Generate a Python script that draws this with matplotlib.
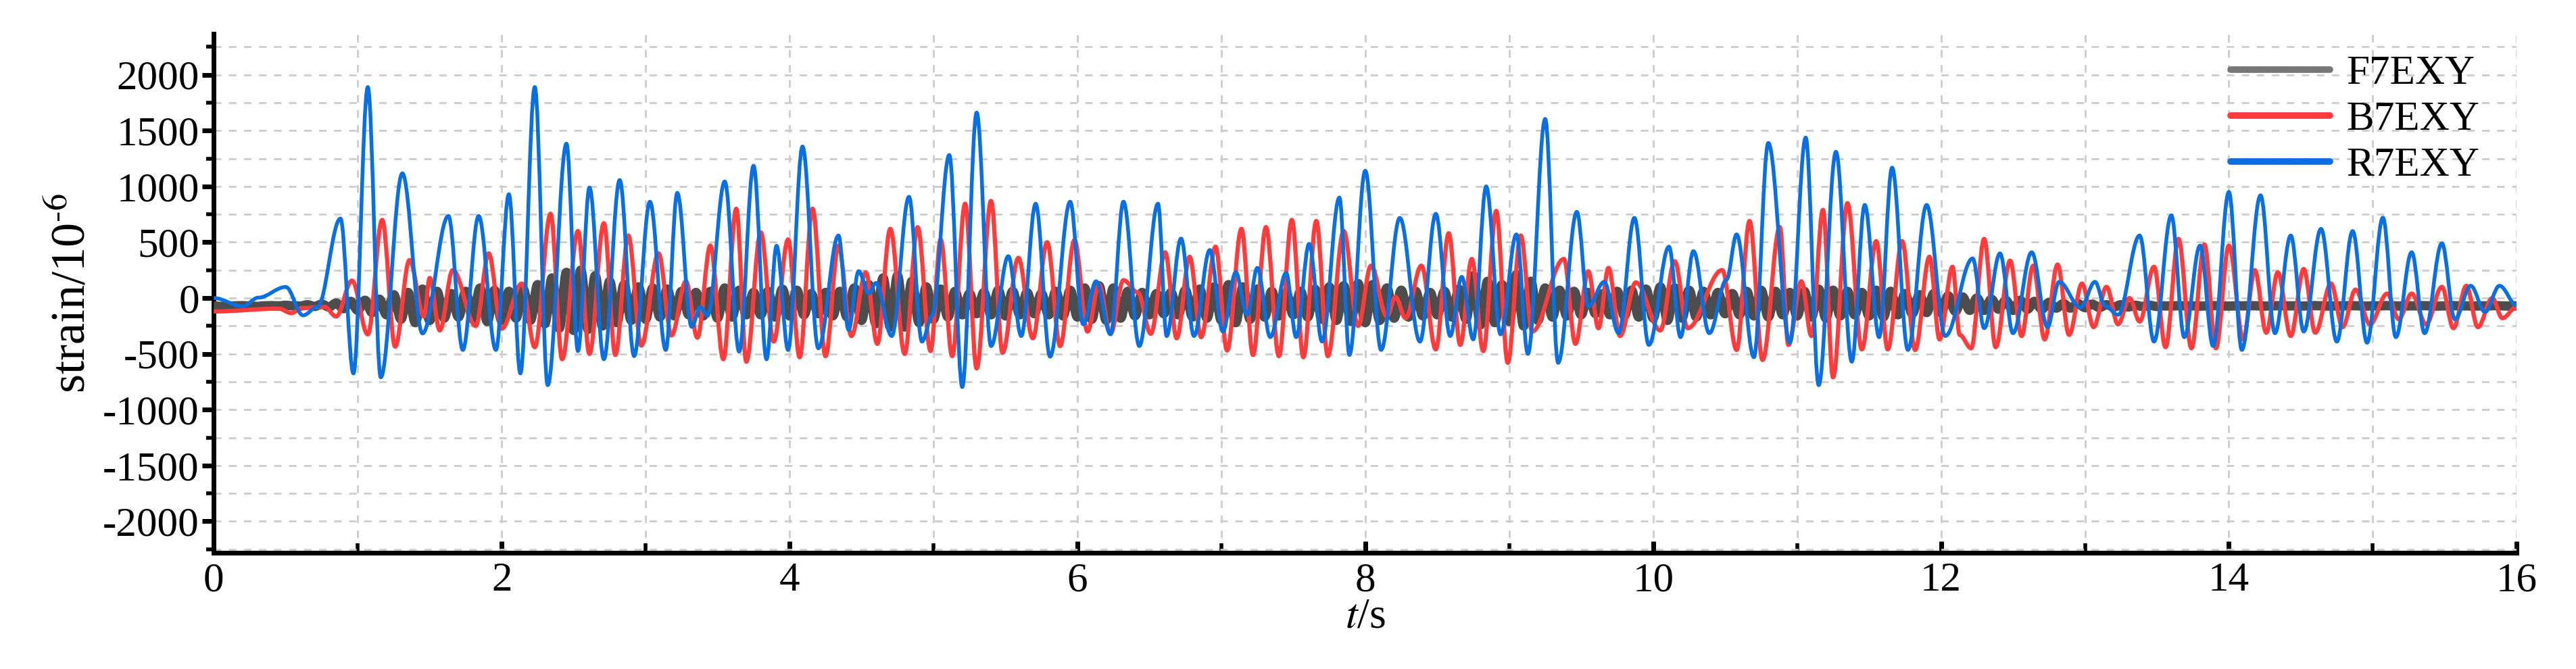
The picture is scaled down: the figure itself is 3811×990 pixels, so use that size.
import numpy as np
import matplotlib
matplotlib.use("Agg")
import matplotlib.pyplot as plt
from matplotlib.ticker import MultipleLocator
from matplotlib.path import Path
from matplotlib.patches import PathPatch
from matplotlib.lines import Line2D

# R7EXY extrema (time s, strain 1e-6)
r_t = [0.0,0.2,0.31,0.5,0.62,0.72,0.88,0.97,1.07,1.16,1.31,1.45,1.63,1.73,1.84,1.96,2.05,2.13,2.23,2.32,
       2.45,2.53,2.61,2.71,2.82,2.92,3.03,3.14,3.22,3.32,3.38,3.43,3.55,3.65,3.75,3.84,3.91,3.99,4.09,4.2,
       4.34,4.41,4.48,4.55,4.6,4.71,4.83,4.92,4.99,5.11,5.2,5.3,5.4,5.52,5.61,5.71,5.81,5.95,6.04,6.13,
       6.23,6.32,6.43,6.56,6.62,6.72,6.81,6.92,7.01,7.1,7.18,7.25,7.34,7.45,7.52,7.61,7.7,7.82,7.89,8.0,
       8.11,8.24,8.38,8.49,8.59,8.67,8.75,8.84,8.94,9.05,9.13,9.25,9.34,9.47,9.55,9.66,9.76,9.87,9.97,10.11,
       10.19,10.28,10.39,10.51,10.58,10.7,10.8,10.95,11.06,11.15,11.27,11.38,11.47,11.57,11.66,11.77,11.9,12.03,12.22,
       12.3,12.41,12.5,12.63,12.74,12.82,12.97,13.07,13.14,13.23,13.38,13.48,13.6,13.69,13.8,13.89,14.0,14.09,14.22,14.32,
       14.43,14.52,14.64,14.75,14.86,14.96,15.07,15.16,15.27,15.36,15.48,15.57,15.68,15.78,15.88,16.0]
r_v = [0,-74,4,99,-155,-80,712,-675,1890,-710,1117,-317,735,-465,735,-465,930,-675,1890,-780,
       1383,-475,990,-548,1057,-520,863,-465,942,-258,-82,-160,1044,-480,1185,-548,468,-465,1357,-450,
       560,-285,241,42,135,-340,907,-390,-160,1281,-797,1661,-430,375,-340,845,-525,863,-235,150,
       -325,863,-430,845,-340,533,-340,430,-300,230,-150,270,-350,225,-350,485,-390,900,-510,1140,
       -465,718,-390,754,-340,190,-370,1000,-325,570,-500,1604,-580,772,-75,145,-315,718,-420,460,
       -350,420,-315,165,570,-530,1389,-400,1437,-780,1310,-570,834,-350,1168,-465,834,-340,355,
       -270,400,-315,410,-260,145,-85,145,-70,-150,560,-390,740,-350,470,-430,950,-465,920,-315,
       560,-300,620,-390,600,-400,720,-350,410,-315,490,-190,110,-125,110,-65]

# B7EXY extrema
b_t = [0.0,0.45,0.54,0.61,0.77,0.85,0.96,1.07,1.17,1.26,1.36,1.46,1.5,1.57,1.66,1.82,1.91,2.0,2.14,2.23,
       2.34,2.42,2.53,2.61,2.71,2.79,2.88,2.97,3.09,3.18,3.28,3.36,3.45,3.54,3.63,3.7,3.8,3.89,3.99,4.07,
       4.16,4.25,4.34,4.43,4.53,4.61,4.7,4.8,4.89,4.98,5.05,5.13,5.22,5.3,5.4,5.48,5.59,5.69,5.79,5.88,
       5.98,6.07,6.15,6.23,6.32,6.42,6.51,6.61,6.69,6.78,6.86,6.96,7.04,7.14,7.22,7.31,7.4,7.49,7.57,7.66,
       7.74,7.85,7.95,8.04,8.15,8.21,8.28,8.39,8.49,8.58,8.66,8.74,8.82,8.91,8.99,9.08,9.16,9.38,9.46,9.55,
       9.62,9.69,9.77,9.88,10.05,10.15,10.24,10.48,10.58,10.67,10.76,10.88,10.94,11.03,11.1,11.18,11.25,11.35,11.45,11.55,
       11.63,11.73,11.82,11.92,11.99,12.08,12.13,12.21,12.3,12.38,12.48,12.56,12.64,12.72,12.81,12.89,12.98,13.06,13.15,13.23,
       13.31,13.38,13.48,13.56,13.65,13.74,13.83,13.91,14.0,14.1,14.18,14.26,14.34,14.43,14.52,14.6,14.71,14.79,14.88,14.98,
       15.1,15.18,15.27,15.37,15.48,15.56,15.65,15.73,15.83,15.9,16.0]
b_v = [-120,-95,-135,-90,-80,-165,156,-325,700,-435,340,-165,180,-290,250,-250,400,-275,130,-440,
       755,-548,600,-500,670,-510,560,-425,400,-335,150,-355,470,-548,800,-570,588,-390,525,-530,
       800,-520,470,-340,230,-410,620,-500,635,-475,525,-520,845,-630,870,-490,360,-360,500,-430,
       520,-300,120,-320,160,50,-320,410,-360,370,-350,460,-470,620,-510,635,-520,700,-530,690,
       -520,600,-250,290,-165,10,-180,290,-460,580,-420,350,-475,780,-580,560,-300,350,-410,240,
       -270,270,-340,140,-290,330,-270,250,-465,690,-555,635,-420,150,-340,790,-710,850,-460,510,
       -460,510,-465,370,-370,280,-330,-450,530,-440,335,-340,290,-370,300,-330,130,-260,100,-235,
       0,-210,280,-440,530,-450,480,-450,470,-370,250,-310,230,-340,260,-310,130,-260,75,-235,
       40,-190,40,-235,100,-270,110,-260,0,-180,-80]

# F7EXY extrema, one value every 0.05 s starting at 0 s
f_v = [-70,-75,-72,-70,-68,-72,-75,-70,-68,-70,-65,-70,-72,-60,-75,-55,-80,-45,-95,-30,
       -110,-20,-130,-10,-150,30,-190,50,-220,80,-200,60,-180,40,-170,60,-190,90,-210,70,
       -200,60,-180,80,-200,120,-230,180,-270,230,-290,250,-280,200,-250,150,-220,120,-200,100,
       -190,90,-170,80,-160,60,-150,50,-160,60,-180,90,-170,70,-150,50,-150,60,-170,80,
       -160,70,-150,40,-140,50,-160,60,-170,90,-200,120,-230,180,-260,200,-260,150,-220,100,
       -190,80,-170,60,-150,40,-140,50,-150,70,-160,60,-150,50,-140,40,-150,60,-160,70,
       -170,90,-190,110,-200,90,-180,60,-160,50,-150,40,-140,50,-150,70,-170,80,-180,100,
       -200,120,-220,100,-190,80,-170,60,-160,50,-150,60,-170,80,-190,100,-200,110,-210,130,
       -220,120,-200,90,-180,70,-170,60,-160,50,-150,60,-170,80,-190,200,-240,150,-220,120,
       -210,210,-250,150,-200,90,-170,70,-160,60,-150,50,-140,40,-150,60,-160,70,-170,80,
       -180,100,-200,90,-180,70,-170,60,-150,50,-140,40,-150,60,-160,70,-170,60,-150,50,
       -160,60,-170,80,-180,70,-160,60,-150,50,-160,70,-170,60,-150,40,-140,30,-130,40,
       -130,20,-120,10,-110,0,-110,-10,-100,-20,-110,-20,-100,-30,-100,-40,-90,-50,-90,-50,
       -85,-55,-85,-60,-80,-60,-80,-65,-75,-65,-75,-70,-72,-68,-70,-70,-72,-70,-68,-70,
       -72,-70,-70,-68,-70,-72,-70,-68,-70,-70,-72,-70,-68,-70,-72,-70,-70,-68,-70,-72,
       -70,-70,-68,-70,-72,-70,-70,-68,-70,-72,-70,-68,-70,-70,-72,-70,-70,-68,-70,-72,-70]
f_t = np.arange(len(f_v)) * 0.05


def smooth_path(t, v):
    """Bezier path through the extrema with horizontal tangents."""
    t = np.asarray(t, float); v = np.asarray(v, float)
    verts = [(t[0], v[0])]
    codes = [Path.MOVETO]
    for i in range(1, len(t)):
        dt = t[i] - t[i - 1]
        verts += [(t[i - 1] + dt * 0.36, v[i - 1]), (t[i] - dt * 0.36, v[i]), (t[i], v[i])]
        codes += [Path.CURVE4] * 3
    return Path(verts, codes)


plt.rcParams['font.family'] = ['Liberation Serif', 'DejaVu Serif']
plt.rcParams['mathtext.fontset'] = 'stix'
plt.rcParams['axes.unicode_minus'] = False

fig = plt.figure(figsize=(38.11, 9.90), dpi=100)
ax = fig.add_axes([0.083, 0.174, 0.894, 0.776])

series = [(f_t, f_v, '#4d4d4d', 10, 'F7EXY', 3),
          (b_t, b_v, '#ff3b3b', 4.5, 'B7EXY', 4),
          (r_t, r_v, '#0a6fe0', 4, 'R7EXY', 5)]
handles = []
for t, v, c, lw, lab, z in series:
    ax.add_patch(PathPatch(smooth_path(t, v), facecolor='none', edgecolor=c, lw=lw,
                           zorder=z, joinstyle='round'))
    handles.append(Line2D([], [], color=c, lw=lw, label=lab, solid_capstyle='round'))
handles[0].set_color('#777777')

ax.set_xlim(0, 16)
ax.set_ylim(-2280, 2370)
ax.xaxis.set_major_locator(MultipleLocator(2))
ax.xaxis.set_minor_locator(MultipleLocator(1))
ax.yaxis.set_major_locator(MultipleLocator(500))
ax.yaxis.set_minor_locator(MultipleLocator(250))
ax.grid(True, which='both', color='#cccccc', ls=(0, (4, 4)), lw=2)
ax.set_axisbelow(True)
for s in ['top', 'right']:
    ax.spines[s].set_visible(False)
for s in ['left', 'bottom']:
    ax.spines[s].set_linewidth(5)
ax.tick_params(axis='y', which='major', direction='out', length=12, width=5, labelsize=44)
ax.tick_params(axis='y', which='minor', direction='out', length=8, width=4)
ax.tick_params(axis='x', which='major', direction='in', length=12, width=5, labelsize=44, pad=10)
ax.tick_params(axis='x', which='minor', direction='in', length=10, width=4)
ax.set_ylabel('strain/10$^{\\text{-6}}$', fontsize=52, labelpad=8)
ax.set_xlabel('$t$/s', fontsize=46, labelpad=-2)
leg = ax.legend(handles=handles, loc='upper right', bbox_to_anchor=(1.0, 1.03), frameon=False,
                fontsize=44, handlelength=2.4, labelspacing=0.2, handletextpad=0.4)
for line in leg.get_lines():
    line.set_linewidth(7)
fig.savefig('out.png', dpi=100)
